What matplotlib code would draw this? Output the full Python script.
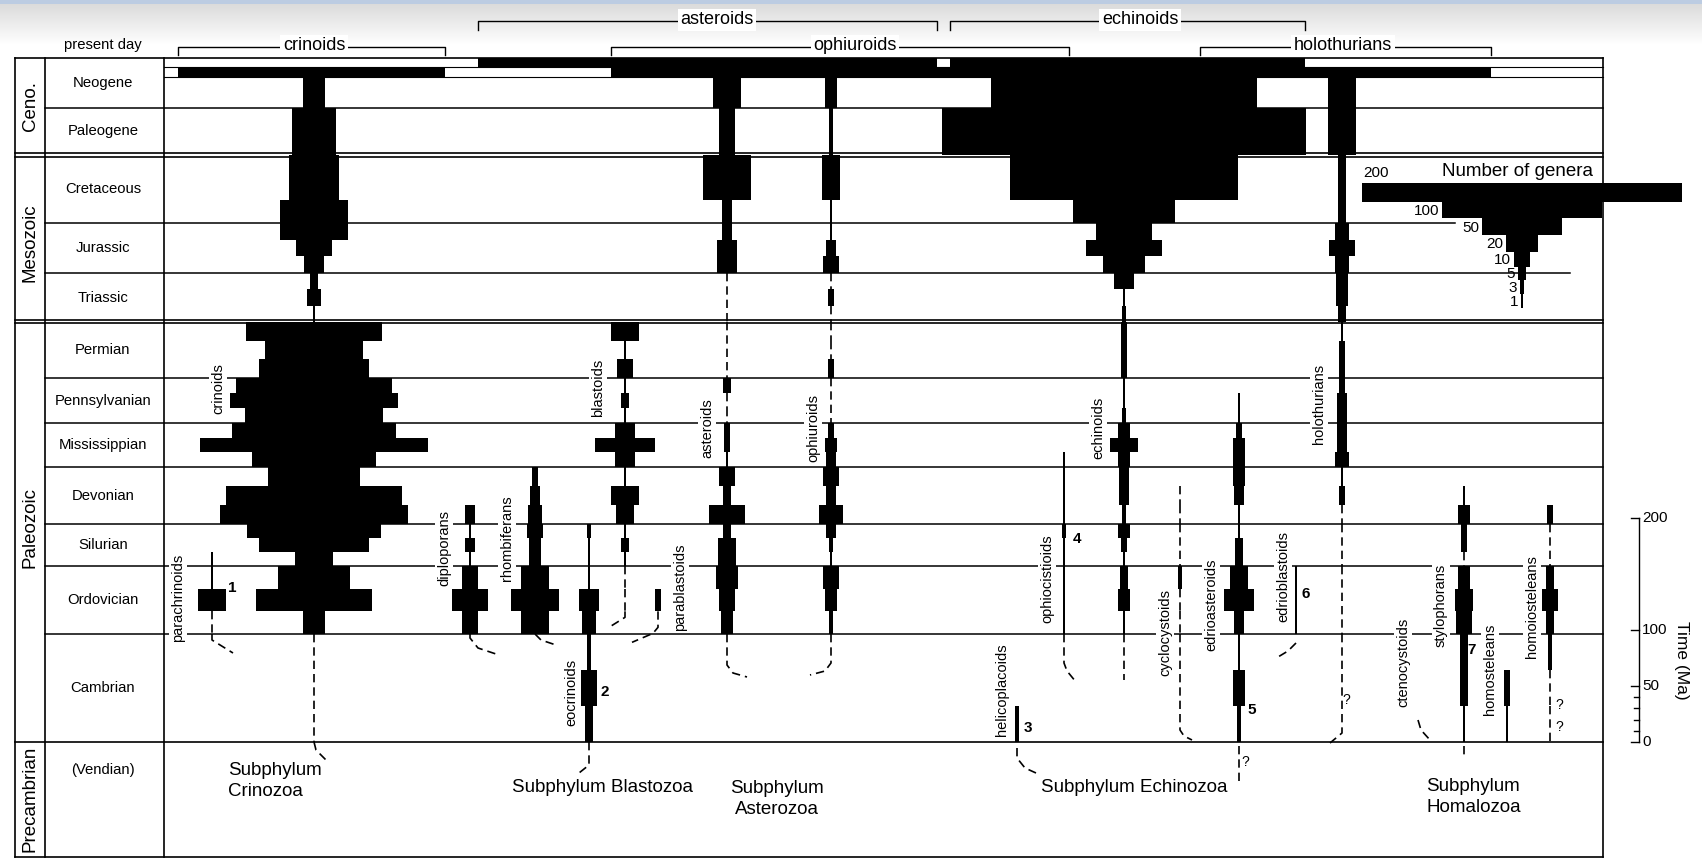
import numpy as np
import matplotlib
matplotlib.use("Agg")
import matplotlib.pyplot as plt

plt.rcParams['font.family'] = ['Liberation Sans', 'DejaVu Sans']

# ---- geological time rows ----
periods = ["Neogene", "Paleogene", "Cretaceous", "Jurassic", "Triassic", "Permian",
           "Pennsylvanian", "Mississippian", "Devonian", "Silurian", "Ordovician", "Cambrian"]
eras = ["Ceno.", "Mesozoic", "Paleozoic", "Precambrian"]

# ---- number of genera per sub-interval (None = absent, 0 = inferred range, dashed) ----
N = None
crinoids = [[14], [27], [31, 31, 42], [42, 22, 13], [5, 9, 1], [85, 61, 69], [97, 105, 86],
            [103, 143, 78], [57, 110, 117], [84, 69, 24], [45, 72, 14], [0]]
asteroids = [[17], [10], [30, 30, 6], [6, 12, 12], [0], [0], [5, 0, 0], [4, 4, 1],
             [10, 5, 22], [5, 11, 11], [14, 10, 7], N]
ophiuroids = [[8], [3], [11, 11, 1], [1, 6, 10], [0, 4, 0], [0, 0, 4], [0], [4, 8, 6],
              [10, 6, 15], [6, 3, 1], [10, 8, 3], N]
echinoids = [[166], [228], [142, 142, 64], [35, 48, 26], [12, 1, 3], [4, 4, 4], [1, 1, 3],
             [7, 18, 8], [6, 6, 3], [7, 4, 1], [5, 8, 1], N]
holothurians = [[17], [17], [5], [9, 16, 9], [8, 7, 5], [1, 4, 4], [4, 6, 6], [6, 6, 9],
                [1, 4, 0], [0], [0], N]
paracrinoids = [N] * 9 + [[N, N, 1], [1, 17, 0], N]
diploporans = [N] * 8 + [[N, N, 6], [1, 6, 1], [10, 23, 10], N]
rhombiferans = [N] * 8 + [[4, 6, 9], [10, 7, 7], [17, 30, 17], N]
blastoids = [N] * 5 + [[18, 1, 10], [1, 5, 1], [12, 37, 12], [1, 17, 11], [1, 5, 1], [0, 0, N], N]
eocrinoids = [N] * 9 + [[3, 1, 1], [1, 12, 9], [2, 10, 5]]
parablastoids = [N] * 10 + [[N, 4, N], N]
ophiocistioids = [N] * 7 + [[N, N, 1], [1, 1, 1], [3, 1, 1], [1, 1, 1], N]
helicoplacoids = [N] * 11 + [[N, N, 3]]
cyclocystoids = [N] * 8 + [[N, 0, 0], [0], [3, 0, 0], N]
edrioasteroids = [N] * 6 + [[N, 1, 1], [4, 7, 7], [8, 6, 1], [1, 5, 5], [11, 19, 6], [1, 7, 2]]
edrioblastoids = [N] * 10 + [[1, 1, 1], N]
ctenocystoids = [N] * 12
stylophorans = [N] * 8 + [[N, 1, 7], [4, 4, 0], [7, 11, 10], [5, 5, 1]]
homosteleans = [N] * 11 + [[N, 4, 1]]
homoiosteleans = [N] * 8 + [[N, N, 4], [0], [5, 10, 5], [2, 0, 0]]

present_names = ["crinoids", "asteroids", "ophiuroids", "echinoids", "holothurians"]
present_genera = [167, 287, 286, 222, 182]

legend_genera = [200, 100, 50, 20, 10, 5, 3, 1]
time_ticks = [0, 10, 20, 30, 40, 50, 100, 200]
time_labels = [0, 50, 100, 200]

subphyla = ["Subphylum\nCrinozoa", "Subphylum Blastozoa", "Subphylum\nAsterozoa",
            "Subphylum Echinozoa", "Subphylum\nHomalozoa"]

# ---- layout (pixel-like data units) ----
PX = 1.6  # px per genus
ROW_TOP = [77, 108, 155, 223, 273, 322, 378, 423, 467, 524, 566, 634]
ROW_BOT = ROW_TOP[1:] + [742]
X_FRAME, X_ERA, X_PER, X_RIGHT = 14.5, 45, 164, 1603
Y_TOP, Y_BOT = 58, 857

fig = plt.figure(figsize=(17.02, 8.6), dpi=100)
ax = fig.add_axes([0, 0, 1, 1])

# scanned-page tint at the top
grad = np.ones((50, 1, 3))
for r in range(50):
    if r < 4:
        grad[r, 0] = (0.74, 0.80, 0.89)
    else:
        g = min(1.0, 0.86 + 0.14 * (r - 4) / 40)
        grad[r, 0] = (g, g, g)
ax.imshow(grad, extent=(0, 1702, 50, 0), aspect='auto', zorder=0)
ax.set_xlim(0, 1702)
ax.set_ylim(860, 0)
ax.axis('off')

LW = 1.1
# frame and boundaries
for y in [Y_TOP, 153, 157, 320, 323, 742, Y_BOT]:
    ax.plot([X_FRAME, X_RIGHT], [y, y], color='black', lw=1.2, zorder=1)
for y in [108, 378, 423, 467, 524, 566, 634]:
    ax.plot([X_ERA, X_RIGHT], [y, y], color='black', lw=LW, zorder=1)
ax.plot([X_ERA, 1455], [223, 223], color='black', lw=LW, zorder=1)
ax.plot([X_ERA, 1570], [273, 273], color='black', lw=LW, zorder=1)
for y in [67, 77]:
    ax.plot([X_PER, X_RIGHT], [y, y], color='black', lw=0.8, zorder=1)
for x in [X_FRAME, X_ERA, X_PER, X_RIGHT]:
    ax.plot([x, x], [Y_TOP, Y_BOT], color='black', lw=1.2, zorder=1)

# period and era labels
for i, p in enumerate(periods):
    ax.text(103, (ROW_TOP[i] + ROW_BOT[i]) / 2 if i else 83, p, ha='center', va='center',
            fontsize=10.7, zorder=4)
ax.text(103, 770, "(Vendian)", ha='center', va='center', fontsize=10.7)
for e, yc in zip(eras, [106, 243, 527, 799]):
    ax.text(30, yc, e, rotation=90, ha='center', va='center', fontsize=13.5)
ax.text(103, 45, "present day", ha='center', va='center', fontsize=10.7)

DASH = dict(color='black', lw=1.2, linestyle=(0, (5, 3)), zorder=3)


def draw_spindle(x, genera, neo_top=77):
    last = None
    for i, segs in enumerate(genera):
        if segs is None:
            continue
        top = neo_top if i == 0 else ROW_TOP[i]
        h = (ROW_BOT[i] - top) / len(segs)
        for j, g in enumerate(segs):
            if g is None:
                continue
            y0 = top + j * h
            if g == 0:
                ax.plot([x, x], [y0, y0 + h], **DASH)
            else:
                ax.bar(x, h, width=g * PX, bottom=y0, color='black', lw=0, zorder=3)
            last = y0 + h
    return last


clades = [
    # genera, x, label, label xy, root (relative pts), neogene top
    (crinoids, 314, "crinoids", (218, 389), [(0, 0), (2, 8), (15, 21)], 77),
    (asteroids, 727, "asteroids", (707, 428), [(0, 0), (0, 31), (6, 39), (20, 43)], 67),
    (ophiuroids, 831, "ophiuroids", (813, 428), [(0, 0), (0, 29), (-6, 37), (-21, 41)], 77),
    (echinoids, 1124, "echinoids", (1098, 428), [(0, 0), (0, 46)], 67),
    (holothurians, 1342, "holothurians", (1319, 404), [(0, 0), (0, 99), (-12, 109)], 77),
    (paracrinoids, 212, "parachrinoids", (178, 598), [(0, 0), (0, 6), (21, 19)], 77),
    (diploporans, 470, "diploporans", (444, 548), [(0, 0), (0, 4), (8, 14), (29, 21)], 77),
    (rhombiferans, 535, "rhombiferans", (507, 538), [(0, 0), (6, 6), (21, 11)], 77),
    (blastoids, 625, "blastoids", (598, 388), [(0, 0), (0, 6), (-16, 16)], 77),
    (eocrinoids, 589, "eocrinoids", (571, 692), [(0, 0), (0, 23), (-10, 31)], 77),
    (parablastoids, 658, "parablastoids", (680, 587), [(0, 0), (0, 16), (-5, 22), (-26, 31)], 77),
    (ophiocistioids, 1064, "ophiocistioids", (1047, 579), [(0, 0), (0, 29), (3, 37), (12, 48)], 77),
    (helicoplacoids, 1017, "helicoplacoids", (1002, 690), [(0, 6), (0, 16), (8, 26), (19, 31)], 77),
    (cyclocystoids, 1180, "cyclocystoids", (1165, 632), [(0, 0), (0, 96), (4, 102), (12, 106)], 77),
    (edrioasteroids, 1239, "edrioasteroids", (1211, 605), [(0, 4), (0, 40)], 77),
    (edrioblastoids, 1296, "edrioblastoids", (1283, 577), [(0, 9), (-8, 17), (-18, 23)], 77),
    (ctenocystoids, 1418, "ctenocystoids", (1403, 662), [(0, 86), (3, 96), (12, 106)], 77),
    (stylophorans, 1464, "stylophorans", (1441, 605), [(0, 4), (0, 16)], 77),
    (homosteleans, 1507, "homosteleans", (1490, 669), [], 77),
    (homoiosteleans, 1550, "homoiosteleans", (1532, 607), [], 77),
]

for genera, x, name, (lx, ly), root, neo in clades:
    bottom = draw_spindle(x, genera, neo)
    if bottom is None:
        bottom = ROW_TOP[-1]
    if root:
        ax.plot([x + dx for dx, dy in root], [bottom + dy for dx, dy in root], **DASH)
    ax.text(lx, ly, name, rotation=90, ha='center', va='center', fontsize=10.5, zorder=2,
            bbox=dict(facecolor='white', edgecolor='none', pad=1.5))

# numbered notes and question marks
for s, (x, y) in zip("1234567", [(232, 588), (605, 692), (1028, 728), (1077, 539),
                                 (1252, 710), (1306, 594), (1472, 650)]):
    ax.text(x, y, s, ha='center', va='center', fontsize=11, fontweight='bold', zorder=4)
for x, y in [(1346, 700), (1245, 762), (1559, 705), (1559, 727)]:
    ax.text(x, y, "?", ha='center', va='center', fontsize=10, zorder=4)

# present-day bars with brackets
present_left = [178, 478, 611, 950, 1200]
strip = [1, 0, 1, 0, 1]
label_x = [314, 717, 855, 1140, 1343]
for name, g, left, s, lx in zip(present_names, present_genera, present_left, strip, label_x):
    w = g * PX
    ytop = 58 if s == 0 else 67
    ax.bar(left, 9.5, width=w, bottom=ytop, align='edge', color='black', lw=0, zorder=3)
    by, bt = (21, 30) if s == 0 else (47, 55)
    ax.plot([left, left, left + w, left + w], [bt, by, by, bt], color='black', lw=1.0, zorder=1)
    ax.text(lx, by - 1, name, ha='center', va='center', fontsize=13, zorder=2,
            bbox=dict(facecolor='white', edgecolor='none', pad=2))

# number-of-genera legend
leg_y = [183, 202, 218, 235, 252, 267, 280, 294, 308]
for k, g in enumerate(legend_genera):
    ax.bar(1522, leg_y[k + 1] - leg_y[k], width=g * PX, bottom=leg_y[k], color='black',
           lw=0, zorder=3)
    if k == 0:
        ax.text(1363, 173, str(g), ha='left', va='center', fontsize=11)
    else:
        ax.text(1522 - g * PX / 2 - 3, (leg_y[k] + leg_y[k + 1]) / 2 + 1, str(g),
                ha='right', va='center', fontsize=11, zorder=4)
ax.text(1593, 172, "Number of genera", ha='right', va='center', fontsize=13.5)

# time scale
def ty(ma):
    return 742 - 1.12 * ma

ax.plot([1639, 1639], [ty(0), ty(200)], color='black', lw=1.0)
for t in time_ticks:
    ln = 8 if t in time_labels else 5
    ax.plot([1639 - ln, 1639], [ty(t), ty(t)], color='black', lw=1.0)
for t in time_labels:
    ax.text(1642, ty(t), str(t), ha='left', va='center', fontsize=11)
ax.text(1682, 660, "Time (Ma)", rotation=-90, ha='center', va='center', fontsize=12.5)

# subphylum names
ax.text(228, 781, subphyla[0], ha='left', va='center', fontsize=13.5, linespacing=1.3)
ax.text(603, 788, subphyla[1], ha='center', va='center', fontsize=13.5)
ax.text(777, 799, subphyla[2], ha='center', va='center', fontsize=13.5, linespacing=1.3)
ax.text(1134, 787, subphyla[3], ha='center', va='center', fontsize=13.5)
ax.text(1426, 797, subphyla[4], ha='left', va='center', fontsize=13.5, linespacing=1.3)

fig.savefig("out.png", dpi=100)
